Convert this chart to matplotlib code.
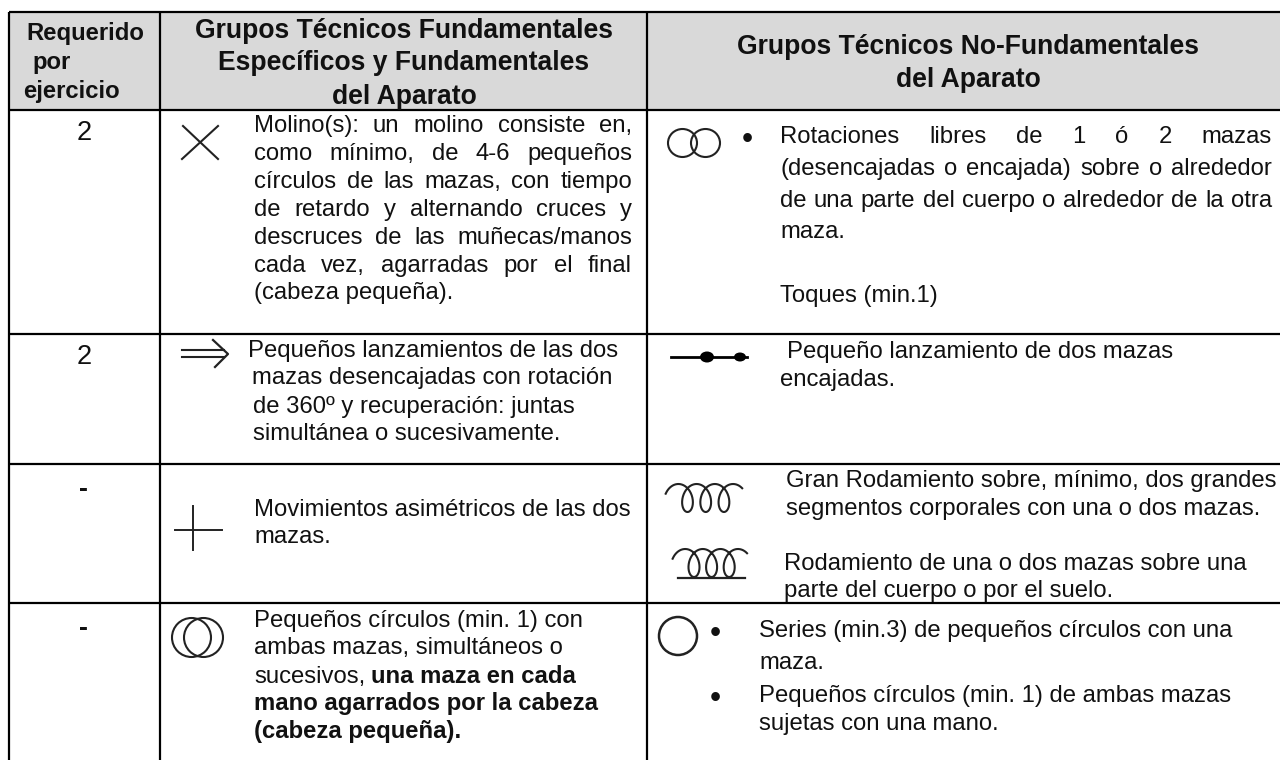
import numpy as np
import matplotlib
matplotlib.use("Agg")
import matplotlib.pyplot as plt
from matplotlib.patches import Ellipse, Rectangle

plt.rcParams['font.family'] = ['Liberation Sans', 'DejaVu Sans']

# Table text
header_req = ["Requerido", "por", "ejercicio"]
header_fund = ["Grupos Técnicos Fundamentales", "Específicos y Fundamentales", "del Aparato"]
header_nofund = ["Grupos Técnicos No-Fundamentales", "del Aparato"]
required = ["2", "2", "-", "-"]

molino = ["Molino(s): un molino consiste en,",
          "como mínimo, de 4-6 pequeños",
          "círculos de las mazas, con tiempo",
          "de retardo y alternando cruces y",
          "descruces de las muñecas/manos",
          "cada vez, agarradas por el final",
          "(cabeza pequeña)."]
lanzamientos = ["Pequeños lanzamientos de las dos",
                "mazas desencajadas con rotación",
                "de 360º y recuperación: juntas",
                "simultánea o sucesivamente."]
asimetricos = ["Movimientos asimétricos de las dos", "mazas."]
circulos_a = ["Pequeños círculos (min. 1) con", "ambas mazas, simultáneos o"]
circulos_b_reg = "sucesivos,"
circulos_b_bold = "una maza en cada"
circulos_c = ["mano agarrados por la cabeza", "(cabeza pequeña)."]

rotaciones = ["Rotaciones libres de 1 ó 2 mazas",
              "(desencajadas o encajada) sobre o alrededor",
              "de una parte del cuerpo o alrededor de la otra"]
rotaciones_end = "maza."
toques = "Toques (min.1)"
lanz_dos = ["Pequeño lanzamiento de dos mazas", "encajadas."]
gran_rod = ["Gran Rodamiento sobre, mínimo, dos grandes",
            "segmentos corporales con una o dos mazas."]
rod = ["Rodamiento de una o dos mazas sobre una",
       "parte del cuerpo o por el suelo."]
series = ["Series (min.3) de pequeños círculos con una", "maza."]
peq_circ = ["Pequeños círculos (min. 1) de ambas mazas", "sujetas con una mano."]

BODY = 17.2
HEAD = 19.1
HEAD_SMALL = 17.2
INK = '#222222'

fig = plt.figure(figsize=(12.8, 7.6), dpi=100)
ax = fig.add_axes([0, 0, 1, 1])
ax.set_xlim(0, 1280)
ax.set_ylim(760, 0)
ax.axis('off')
renderer = fig.canvas.get_renderer()


def put(x, y, s, size=BODY, weight='normal', ha='left'):
    return ax.text(x, y, s, fontsize=size, fontweight=weight, ha=ha, va='baseline', color='#111111')


def width(s, weight='normal'):
    t = put(0, 0, s, weight=weight)
    w = t.get_window_extent(renderer).width
    t.remove()
    return w


def justified(x, y, s, right):
    words = s.split(" ")
    ws = [width(w) for w in words]
    gap = (right - x - sum(ws)) / (len(words) - 1)
    for w, wd in zip(words, ws):
        put(x, y, w)
        x += wd + gap


def spiral(xc, yc, a, b, h, start, end):
    # looped roll glyph, loops hang below the centre line
    t = np.linspace(start, end, 500)
    ax.plot(xc + a * t - b * np.sin(t), yc + h * np.cos(t), color=INK, lw=1.5)


# Header band and grid
ax.add_patch(Rectangle((9, 12), 1271, 97, facecolor='#d9d9d9', edgecolor='none'))
for yl in [12, 109.5, 333.5, 464, 603]:
    ax.plot([8.5, 1280], [yl, yl], color='black', lw=1.6, solid_capstyle='butt')
for xl in [9, 160, 647]:
    ax.plot([xl, xl], [12, 760], color='black', lw=1.6, solid_capstyle='butt')

# Header text
put(26, 40, header_req[0], HEAD_SMALL, 'bold')
put(32, 69, header_req[1], HEAD_SMALL, 'bold')
put(23, 98, header_req[2], HEAD_SMALL, 'bold')
for yl, s in zip([38, 70, 104], header_fund):
    put(404, yl, s, HEAD, 'bold', 'center')
for yl, s in zip([54, 87], header_nofund):
    put(968, yl, s, HEAD, 'bold', 'center')

# First column
for yl, s in zip([140, 364], required[:2]):
    put(84, yl, s, 19.5, ha='center')
for yl, s in zip([497, 636], required[2:]):
    put(84, yl, s, 19.5, 'bold', 'center')

# Second column
for yl, s in zip([132, 160, 188, 216, 244, 272], molino[:6]):
    justified(254, yl, s, 632)
put(254, 299, molino[6])
for xl, yl, s in zip([248, 252, 253, 253], [357, 384, 413, 440], lanzamientos):
    put(xl, yl, s)
for yl, s in zip([516, 543], asimetricos):
    put(254, yl, s)
for yl, s in zip([627, 654], circulos_a):
    put(254, yl, s)
put(254, 683, circulos_b_reg)
put(254 + width(circulos_b_reg) + 6, 683, circulos_b_bold, weight='bold')
for yl, s in zip([710, 738], circulos_c):
    put(254, yl, s, weight='bold')

# Third column
put(747, 148, "•", 23, ha='center')
for yl, s in zip([143, 175, 207], rotaciones):
    justified(780, yl, s, 1272)
put(780, 238, rotaciones_end)
put(780, 302, toques)
put(787, 358, lanz_dos[0])
put(780, 386, lanz_dos[1])
for yl, s in zip([487, 515], gran_rod):
    put(786, yl, s)
for yl, s in zip([570, 597], rod):
    put(784, yl, s)
put(715, 642, "•", 23, ha='center')
put(715, 707, "•", 23, ha='center')
for yl, s in zip([637, 669], series):
    put(759, yl, s)
for yl, s in zip([702, 730], peq_circ):
    put(759, yl, s)

# Apparatus symbols
ax.plot([182, 218], [159, 126], color=INK, lw=1.5)
ax.plot([183, 218], [126, 159], color=INK, lw=1.5)

for yl in [350, 357]:
    ax.plot([182, 224], [yl, yl], color=INK, lw=1.5)
ax.plot([213, 228, 215], [340, 354, 367], color=INK, lw=1.6)

ax.plot([175, 222], [530, 530], color=INK, lw=1.4)
ax.plot([193, 193], [506, 550], color=INK, lw=1.4)

for xc in [191.5, 203.5]:
    ax.add_patch(Ellipse((xc, 637.5), 39, 39, fill=False, edgecolor=INK, lw=1.5))
for xc in [682.5, 705.5]:
    ax.add_patch(Ellipse((xc, 143), 29, 28, fill=False, edgecolor=INK, lw=1.5))

ax.plot([671, 747], [357, 357], color='black', lw=2)
ax.add_patch(Ellipse((707, 357), 14, 11, facecolor='black', edgecolor='none'))
ax.add_patch(Ellipse((740, 357), 12, 9, facecolor='black', edgecolor='none'))

spiral(687.5, 498, 2.9, 9.5, 14, -4.4, 5 * np.pi + 0.8)
spiral(694, 563, 2.8, 9.5, 14, -4.4, 5 * np.pi + 0.8)
ax.plot([678, 745], [578, 578], color=INK, lw=1.6)

ax.add_patch(Ellipse((678, 636), 38, 38, fill=False, edgecolor=INK, lw=1.8))

fig.savefig("out.png", dpi=100)
